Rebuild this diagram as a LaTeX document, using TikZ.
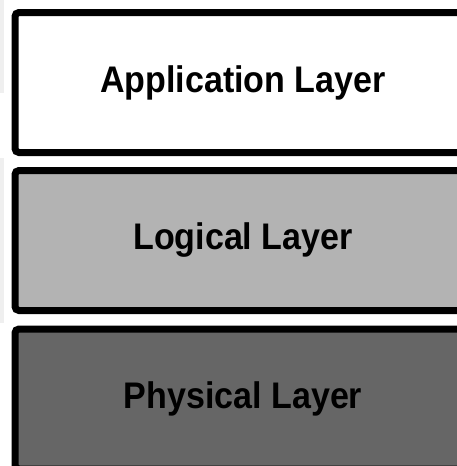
\documentclass[tikz,border=0pt]{standalone}
\usepackage{fontspec}
\setmainfont{Liberation Sans}
\newfontfamily\layerfont[FakeStretch=0.92]{Liberation Sans}
\definecolor{logicgray}{HTML}{B3B3B3}
\definecolor{physgray}{HTML}{666666}
\definecolor{edgegray}{HTML}{EFEFEF}
\begin{document}
\begin{tikzpicture}[x=1pt, y=-1pt,
    layer/.style={draw, line width=7pt, rounded corners=4pt, inner sep=0pt,
        minimum width=456pt, minimum height=140pt,
        font=\layerfont\bfseries\fontsize{37}{44}\selectfont}]
    \clip (0, 0) rectangle (457, 466);
    \fill [color=white] (0, 0) rectangle (457, 466);
    \fill [color=edgegray] (0, 0) rectangle (4, 93);
    \fill [color=edgegray] (0, 158) rectangle (4, 323);

    \node [layer, fill=white] (app) at (243, 82.5) {Application Layer};
    \node [layer, fill=logicgray] (logic) at (243, 240.5) {Logical Layer};
    \node [layer, fill=physgray] (phys) at (243, 399) {Physical Layer};
\end{tikzpicture}
\end{document}
